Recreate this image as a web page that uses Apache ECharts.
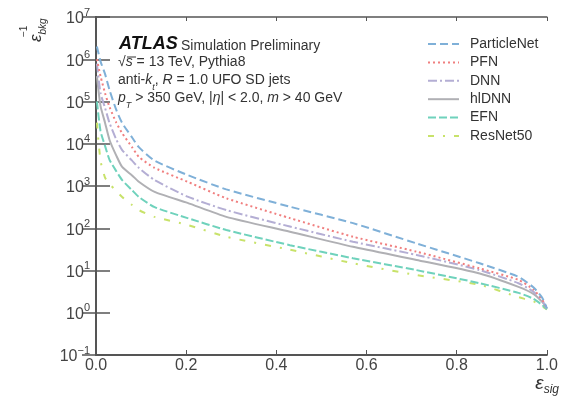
<!DOCTYPE html>
<html>
<head>
<meta charset="utf-8">
<script src="https://cdn.jsdelivr.net/npm/echarts@6/dist/echarts.min.js"></script>
<style>
  html, body { margin: 0; padding: 0; background: #fff; }
  #chart { width: 561px; height: 403px; }
</style>
</head>
<body>
<div id="chart"></div>
<script>
// signal efficiency points
var effSig = [0.002, 0.01, 0.02, 0.03, 0.045, 0.058, 0.08, 0.095, 0.13, 0.203, 0.289, 0.43, 0.57, 0.711, 0.851, 0.937, 0.97, 0.99, 1.0];

// background rejection
var particleNet = [2.0e6, 8.9e5, 4.5e5, 1.86e5, 6.3e4, 3.1e4, 1.41e4, 8300, 3980, 1820, 832, 324, 132, 43.7, 14.8, 7.1, 4.0, 2.24, 1.26];
var pfn = [1.0e6, 4.0e5, 1.58e5, 7.4e4, 3.16e4, 1.78e4, 8300, 4900, 2690, 1260, 513, 174, 63, 27.9, 11.2, 6.0, 3.55, 2.0, 1.26];
var dnn = [7.9e5, 1.58e5, 7.1e4, 3.1e4, 1.26e4, 7100, 3980, 2690, 1380, 562, 269, 110, 47.9, 23.4, 10.2, 5.0, 3.16, 1.9, 1.26];
var hldnn = [4.0e5, 7.9e4, 3.16e4, 1.23e4, 5250, 2820, 1780, 1260, 724, 398, 186, 83, 36.3, 17.8, 8.5, 4.1, 2.8, 1.78, 1.26];
var efn = [1.0e5, 2.0e4, 8900, 4170, 2240, 1380, 794, 550, 316, 174, 91, 39.8, 19.5, 10.2, 5.0, 2.95, 2.14, 1.51, 1.2];
var resnet50 = [3.16e4, 3980, 1580, 1120, 759, 550, 355, 269, 186, 120, 63, 31, 14.8, 7.8, 4.6, 2.34, 1.86, 1.41, 1.2];

var seriesNames = ['ParticleNet', 'PFN', 'DNN', 'hlDNN', 'EFN', 'ResNet50'];
var seriesData = [particleNet, pfn, dnn, hldnn, efn, resnet50];
var colors = ['#7fb0d8', '#f07f7f', '#b4aed4', '#b0b0b4', '#6fd2bc', '#c8e26a'];
var dashes = [[8, 4], [2, 3], [9, 3, 2, 3], 'solid', [8, 3], [6, 9, 2, 9]];

var axisColor = '#555';
var fontFam = 'Liberation Sans, Arial, sans-serif';

function pairs(ys) {
  var out = [];
  for (var i = 0; i < effSig.length; i++) {
    out.push([effSig[i], ys[i]]);
  }
  return out;
}

var series = [];
for (var i = 0; i < seriesNames.length; i++) {
  series.push({
    name: seriesNames[i],
    type: 'line',
    data: pairs(seriesData[i]),
    symbol: 'none',
    smooth: 0.2,
    lineStyle: { color: colors[i], width: 2, type: dashes[i] },
    itemStyle: { color: colors[i] },
    z: 10 - i
  });
}

var myChart = echarts.init(document.getElementById('chart'));

var txt = { fontFamily: fontFam, fontSize: 14, fill: '#333', verticalAlign: 'top', lineHeight: 18 };
function st(extra) {
  var o = {};
  for (var k in txt) o[k] = txt[k];
  for (var k2 in extra) o[k2] = extra[k2];
  return o;
}

var option = {
  animation: false,
  backgroundColor: '#fff',
  grid: { left: 96, right: 2, top: 17, bottom: 48 },
  legend: {
    left: 422,
    top: 32,
    orient: 'vertical',
    itemWidth: 31,
    itemHeight: 14,
    itemGap: 4.4,
    itemStyle: { opacity: 0 },
    textStyle: { fontFamily: fontFam, fontSize: 14, color: '#333', padding: [0, 0, 0, 6] },
    data: seriesNames
  },
  xAxis: [{
    type: 'value',
    min: 0,
    max: 1,
    interval: 0.2,
    axisLine: { lineStyle: { color: axisColor, width: 2 } },
    axisTick: { inside: true, length: 5, lineStyle: { color: axisColor } },
    splitLine: { show: false },
    axisLabel: {
      margin: 3,
      fontFamily: fontFam, fontSize: 16, color: '#444',
      formatter: function (v) { return v.toFixed(1); }
    }
  }, {
    type: 'value',
    position: 'top',
    min: 0,
    max: 1,
    interval: 0.2,
    axisLine: { lineStyle: { color: axisColor, width: 1.5 } },
    axisTick: { inside: true, length: 4, lineStyle: { color: axisColor } },
    axisLabel: { show: false },
    splitLine: { show: false }
  }],
  yAxis: [{
    type: 'log',
    logBase: 10,
    min: 0.1,
    max: 1e7,
    axisLine: { show: true, lineStyle: { color: axisColor, width: 2 } },
    axisTick: { show: true, inside: true, length: 14, lineStyle: { color: axisColor, width: 1.5 } },
    splitLine: { show: false },
    axisLabel: {
      margin: 6,
      formatter: function (v) {
        var e = Math.round(Math.log10(v));
        return '{b|10}{s|' + (e < 0 ? '\u2212' + (-e) : e) + '}';
      },
      rich: {
        b: { fontFamily: fontFam, fontSize: 16, color: '#444', verticalAlign: 'bottom', lineHeight: 20 },
        s: { fontFamily: fontFam, fontSize: 11, color: '#444', verticalAlign: 'top', lineHeight: 20 }
      }
    }
  }, {
    type: 'log',
    logBase: 10,
    min: 0.1,
    max: 1e7,
    position: 'right',
    axisLine: { show: true, lineStyle: { color: axisColor, width: 2 } },
    axisTick: { show: true, inside: true, length: 14, lineStyle: { color: axisColor, width: 1.5 } },
    axisLabel: { show: false },
    splitLine: { show: false }
  }],
  graphic: [
    {
      type: 'text', left: 119, top: 35,
      style: {
        text: '{a|ATLAS} {b|Simulation Preliminary}',
        rich: {
          a: { fontFamily: fontFam, fontSize: 18, fontWeight: 'bold', fontStyle: 'italic', fill: '#111', verticalAlign: 'bottom', lineHeight: 20 },
          b: { fontFamily: fontFam, fontSize: 14, fill: '#333', verticalAlign: 'bottom', lineHeight: 20 }
        }
      }
    },
    {
      type: 'text', left: 118, top: 55.5,
      style: {
        text: '{r|\u221A}{i|s}{r| = 13 TeV, Pythia8}',
        rich: { r: st({}), i: st({ fontStyle: 'italic' }) }
      }
    },
    {
      type: 'line', shape: { x1: 127, y1: 57, x2: 136, y2: 57 },
      style: { stroke: '#333', lineWidth: 1 }
    },
    {
      type: 'text', left: 118, top: 73.5,
      style: {
        text: '{r|anti-}{i|k}{sub|t}{r|, }{i|R}{r| = 1.0 UFO SD jets}',
        rich: {
          r: st({}), i: st({ fontStyle: 'italic' }),
          sub: st({ fontSize: 9, fontStyle: 'italic', verticalAlign: 'bottom' })
        }
      }
    },
    {
      type: 'text', left: 118, top: 91.5,
      style: {
        text: '{i|p}{sub|T}{r| > 350 GeV, |}{i|\u03B7}{r|| < 2.0, }{i|m}{r| > 40 GeV}',
        rich: {
          r: st({}), i: st({ fontStyle: 'italic' }),
          sub: st({ fontSize: 9, fontStyle: 'italic', verticalAlign: 'bottom' })
        }
      }
    },
    {
      type: 'text', x: 24, y: 42, rotation: Math.PI / 2,
      style: {
        text: '{e|\u03B5}{sub|bkg}',
        rich: {
          e: { fontFamily: fontFam, fontSize: 17, fontStyle: 'italic', fill: '#333', verticalAlign: 'middle', lineHeight: 24 },
          sub: { fontFamily: fontFam, fontSize: 10, fontStyle: 'italic', fill: '#333', verticalAlign: 'bottom', lineHeight: 24 }
        }
      }
    },
    {
      type: 'text', x: 19, y: 37, rotation: Math.PI / 2,
      style: {
        text: '\u22121',
        fontFamily: fontFam, fontSize: 10, fill: '#333'
      }
    },
    {
      type: 'text', right: 2, top: 374,
      style: {
        text: '{e|\u03B5}{sub|sig}',
        rich: {
          e: { fontFamily: fontFam, fontSize: 19, fontStyle: 'italic', fill: '#333', verticalAlign: 'middle', lineHeight: 24 },
          sub: { fontFamily: fontFam, fontSize: 12, fontStyle: 'italic', fill: '#333', verticalAlign: 'bottom', lineHeight: 24 }
        }
      }
    }
  ],
  series: series
};

myChart.setOption(option);
window.onresize = myChart.resize;
</script>
</body>
</html>
